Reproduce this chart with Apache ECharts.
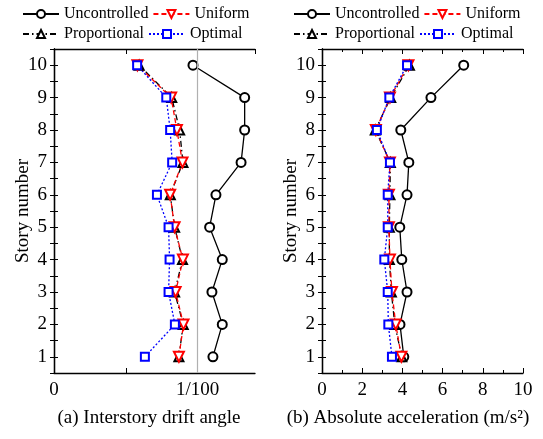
<!DOCTYPE html>
<html>
<head>
<meta charset="utf-8">
<script src="https://cdn.jsdelivr.net/npm/echarts@6/dist/echarts.min.js"></script>
<style>
  html, body { margin: 0; padding: 0; background: #fff; }
  #chart { width: 543px; height: 439px; }
</style>
</head>
<body>
<div id="chart"></div>
<script>
// 楼层
const stories = [1, 2, 3, 4, 5, 6, 7, 8, 9, 10];
const seriesNames = ['Uncontrolled', 'Uniform', 'Proportional', 'Optimal'];

// (a) 层间位移角 (rad)
const driftUncontrolled = [0.01107, 0.01172, 0.01100, 0.01172, 0.01084, 0.01128, 0.01303, 0.01328, 0.01328, 0.00968];
const driftUniform      = [0.00870, 0.00902, 0.00847, 0.00898, 0.00840, 0.00809, 0.00895, 0.00856, 0.00816, 0.00581];
const driftProportional = [0.00870, 0.00900, 0.00840, 0.00895, 0.00840, 0.00810, 0.00898, 0.00875, 0.00820, 0.00593];
const driftOptimal      = [0.00633, 0.00842, 0.00798, 0.00805, 0.00798, 0.00717, 0.00823, 0.00809, 0.00782, 0.00579];
const driftLimit = 0.01;

// (b) 绝对加速度 (m/s2)
const accUncontrolled = [4.07, 3.88, 4.23, 3.97, 3.87, 4.23, 4.32, 3.92, 5.42, 7.05];
const accUniform      = [3.95, 3.67, 3.48, 3.38, 3.33, 3.33, 3.38, 2.68, 3.38, 4.30];
const accProportional = [3.97, 3.62, 3.45, 3.35, 3.35, 3.38, 3.40, 2.65, 3.42, 4.35];
const accOptimal      = [3.48, 3.30, 3.27, 3.10, 3.27, 3.27, 3.38, 2.73, 3.35, 4.23];

const FONT = 'Liberation Serif';

function pairs(values) {
    return values.map((v, i) => [v, stories[i]]);
}

// 每种工况的样式
const styles = {
    'Uncontrolled': { color: '#000000', type: 'solid', symbol: 'emptyCircle', size: 9, rotate: 0 },
    'Uniform': { color: '#ff0000', type: [5, 3], symbol: 'emptyTriangle', size: 10, rotate: 180 },
    'Proportional': { color: '#000000', type: [6, 3, 1.5, 3], symbol: 'emptyTriangle', size: 9, rotate: 0 },
    'Optimal': { color: '#0000ff', type: [2, 2], symbol: 'emptyRect', size: 8, rotate: 0 }
};

function makeSeries(name, values, gridNo) {
    const s = styles[name];
    return {
        name: name,
        type: 'line',
        xAxisIndex: gridNo * 2,
        yAxisIndex: gridNo * 2,
        data: pairs(values),
        symbol: s.symbol,
        symbolSize: s.size,
        symbolRotate: s.rotate,
        itemStyle: { color: s.color, borderWidth: 1.2 },
        lineStyle: { color: s.color, width: 1.3, type: s.type },
        z: 2
    };
}

function bottomAxis(gridNo, min, max, interval, formatter, caption, padRight, minor) {
    return {
        gridIndex: gridNo,
        type: 'value',
        position: 'bottom',
        min: min,
        max: max,
        interval: interval,
        axisLine: { lineStyle: { color: '#000', width: 1.3 } },
        axisTick: { inside: true, length: 5, lineStyle: { color: '#000' } },
        minorTick: { show: minor, splitNumber: 2, length: 3, lineStyle: { color: '#000' } },
        axisLabel: {
            color: '#000', fontFamily: FONT, fontSize: 19, margin: 8,
            formatter: formatter, showMaxLabel: interval > 1 ? true : false
        },
        splitLine: { show: false },
        name: caption,
        nameLocation: 'middle',
        nameGap: 36,
        nameTextStyle: { color: '#000', fontFamily: FONT, fontSize: 19, padding: [0, padRight, 0, 0] }
    };
}

function topAxis(gridNo, min, max, interval, minor) {
    return {
        gridIndex: gridNo,
        type: 'value',
        position: 'top',
        min: min,
        max: max,
        interval: interval,
        axisLine: { lineStyle: { color: '#000', width: 1.3 } },
        axisTick: { inside: true, length: 5, lineStyle: { color: '#000' } },
        minorTick: { show: minor, splitNumber: 2, length: 3, lineStyle: { color: '#000' } },
        axisLabel: { show: false },
        splitLine: { show: false }
    };
}

// 纵轴: 0.5 起步, 每半层一个刻度, 只在整数层标注
function leftAxis(gridNo) {
    return {
        gridIndex: gridNo,
        type: 'value',
        position: 'left',
        min: 0.5,
        max: 10.5,
        interval: 0.5,
        axisLine: { show: true, lineStyle: { color: '#000', width: 1.3 } },
        axisTick: { show: true, inside: true, length: 4, lineStyle: { color: '#000' } },
        axisLabel: {
            color: '#000', fontFamily: FONT, fontSize: 19, margin: 7,
            formatter: v => (Number.isInteger(v) ? String(v) : '')
        },
        splitLine: { show: false },
        name: 'Story number',
        nameLocation: 'middle',
        nameGap: 21,
        nameMoveOverlap: false,
        nameTextStyle: { color: '#000', fontFamily: FONT, fontSize: 19 }
    };
}

function rightAxis(gridNo) {
    return {
        gridIndex: gridNo,
        type: 'value',
        position: 'right',
        min: 0.5,
        max: 10.5,
        interval: 0.5,
        axisLine: { show: true, lineStyle: { color: '#000', width: 1.3 } },
        axisTick: { show: true, inside: true, length: 4, lineStyle: { color: '#000' } },
        axisLabel: { show: false },
        splitLine: { show: false }
    };
}

const driftLabel = v => (v === 0 ? '0' : (Math.abs(v - driftLimit) < 1e-9 ? '1/100' : ''));

const legendBase = {
    data: seriesNames,
    top: 6,
    width: 240,
    padding: 0,
    itemWidth: 36,
    itemHeight: 10,
    itemGap: 4,
    textStyle: { color: '#000', fontFamily: FONT, fontSize: 16 }
};

const leftSeries = [
    makeSeries('Uncontrolled', driftUncontrolled, 0),
    makeSeries('Proportional', driftProportional, 0),
    makeSeries('Uniform', driftUniform, 0),
    makeSeries('Optimal', driftOptimal, 0)
];
// 1/100 限值参考线
leftSeries[0].markLine = {
    silent: true,
    symbol: 'none',
    label: { show: false },
    lineStyle: { color: '#b0b0b0', type: 'solid', width: 1.2 },
    data: [{ xAxis: driftLimit }]
};

const rightSeries = [
    makeSeries('Uncontrolled', accUncontrolled, 1),
    makeSeries('Proportional', accProportional, 1),
    makeSeries('Uniform', accUniform, 1),
    makeSeries('Optimal', accOptimal, 1)
];

const myChart = echarts.init(document.getElementById('chart'));
const option = {
    animation: false,
    backgroundColor: '#fff',
    legend: [
        Object.assign({}, legendBase, { left: 22 }),
        Object.assign({}, legendBase, { left: 293 })
    ],
    grid: [
        { left: 54, top: 49, width: 201, height: 324 },
        { left: 322, top: 49, width: 201, height: 324 }
    ],
    xAxis: [
        bottomAxis(0, 0, 0.014, 0.005, driftLabel, '(a) Interstory drift angle', 11, false),
        topAxis(0, 0, 0.014, 0.005, false),
        bottomAxis(1, 0, 10, 2, '{value}', '(b) Absolute acceleration (m/s²)', 29, true),
        topAxis(1, 0, 10, 2, true)
    ],
    yAxis: [
        leftAxis(0),
        rightAxis(0),
        leftAxis(1),
        rightAxis(1)
    ],
    series: leftSeries.concat(rightSeries)
};
myChart.setOption(option);
window.addEventListener('resize', () => myChart.resize());
</script>
</body>
</html>
